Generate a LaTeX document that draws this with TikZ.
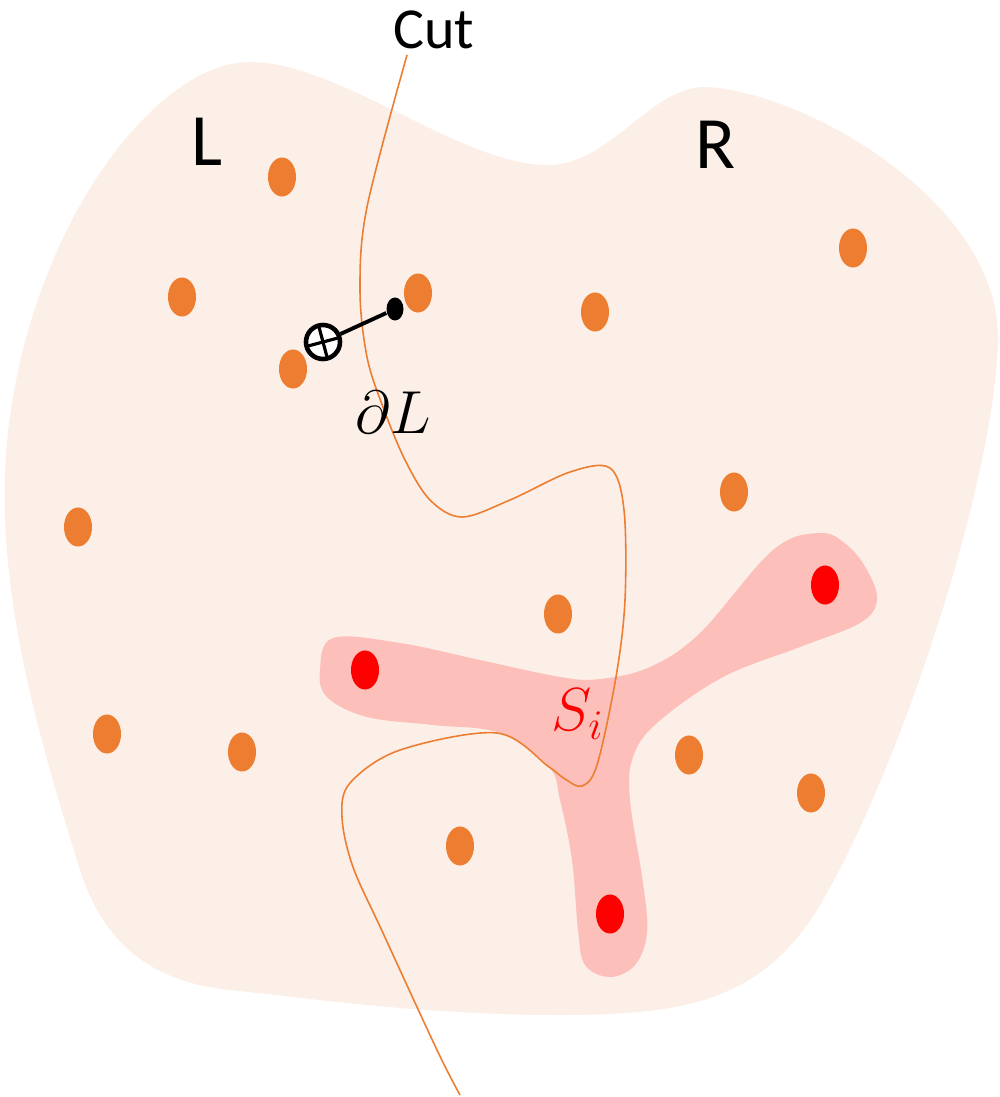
\documentclass[tikz,border=0pt]{standalone}
\usepackage{fontspec}
\setmainfont{Carlito}
\usetikzlibrary{shapes.geometric, calc}

\definecolor{regionbg}{HTML}{FCEFE7}
\definecolor{setbg}{HTML}{FCBFB9}
\definecolor{dotorange}{HTML}{ED7D31}
\definecolor{dotred}{HTML}{FF0000}

\tikzset{
    vtx/.style={ellipse, fill=dotorange, inner sep=0pt, minimum width=0.28cm, minimum height=0.39cm},
    setvtx/.style={vtx, fill=dotred},
    cutline/.style={draw=dotorange, line width=0.45pt},
    side/.style={font=\fontsize{21}{24}\selectfont},
}

\begin{document}
\begin{tikzpicture}[x=0.01cm, y=-0.01cm]
    \useasboundingbox (0,0) rectangle (999,1097);

    % Grundgebiet
    \fill[regionbg] (250,62) .. controls (340,62) and (460,165) .. (548,165)
        .. controls (610,165) and (650,87) .. (705,87)
        .. controls (800,90) and (1000,200) .. (998,340)
        .. controls (995,480) and (900,770) .. (820,905)
        .. controls (762,1003) and (680,1015) .. (560,1015)
        .. controls (420,1015) and (300,997) .. (230,990)
        .. controls (150,982) and (103,942) .. (80,870)
        .. controls (45,758) and (10,640) .. (5,520)
        .. controls (-5,280) and (140,62) .. (250,62) -- cycle;

    % Menge S_i
    \fill[setbg] plot[smooth cycle, tension=0.6] coordinates {
        (333,638) (400,643) (480,660) (560,677) (600,679) (650,667) (700,633)
        (773,550) (820,533) (847,545) (867,570) (877,600) (860,623) (800,647)
        (723,677) (657,723) (633,757) (630,800) (643,883) (647,933) (635,965)
        (610,977) (585,965) (578,930) (572,860) (560,800) (549,767) (500,733)
        (433,725) (367,717) (327,697) (320,670)};

    % Knoten
    \foreach \x/\y [count=\i] in {282/177, 182/297, 418/293, 595/312, 853/248,
        293/369, 734/492, 78/527, 558/614, 107/734, 242/752, 689/755,
        811/793, 460/846}
        \node[vtx] (v\i) at (\x,\y) {};
    \foreach \x/\y [count=\i] in {365/670, 825/585, 610/914}
        \node[setvtx] (s\i) at (\x,\y) {};

    % Schnitt
    \draw[cutline] plot[smooth, tension=0.55] coordinates {
        (407,55) (367,207) (360,290) (367,357) (383,407) (405,460)
        (430,500) (462,517) (510,500) (570,472) (610,468) (624,510)
        (625,600) (616,677) (597,765) (582,786) (565,779) (549,767)
        (497,733) (400,750) (350,783) (342,817) (353,867) (383,933)
        (437,1050) (460,1095)};

    % Randkante
    \node[circle, draw, fill=white, line width=1.3pt, inner sep=0pt, minimum size=0.34cm] (src) at (323,342) {};
    \draw[line width=0.9pt] ($(src.center)+(15:0.17cm)$) -- ($(src.center)+(195:0.17cm)$);
    \draw[line width=0.9pt] ($(src.center)+(105:0.17cm)$) -- ($(src.center)+(285:0.17cm)$);
    \node[ellipse, fill=black, inner sep=0pt, minimum width=0.17cm, minimum height=0.23cm] (dst) at (395,309) {};
    \draw[line width=1.1pt] (src) -- (dst);

    % Beschriftungen
    \node[font=\fontsize{16.5}{20}\selectfont] (cut) at (434,30) {Cut};
    \node[side] (lside) at (207,142) {L};
    \node[side] (rside) at (716,145) {R};
    \node[font=\fontsize{18}{22}\selectfont] (bnd) at (393,412) {$\partial L$};
    \node[font=\fontsize{18}{22}\selectfont, text=dotred] (setlbl) at (578,714) {$S_i$};

\end{tikzpicture}
\end{document}
